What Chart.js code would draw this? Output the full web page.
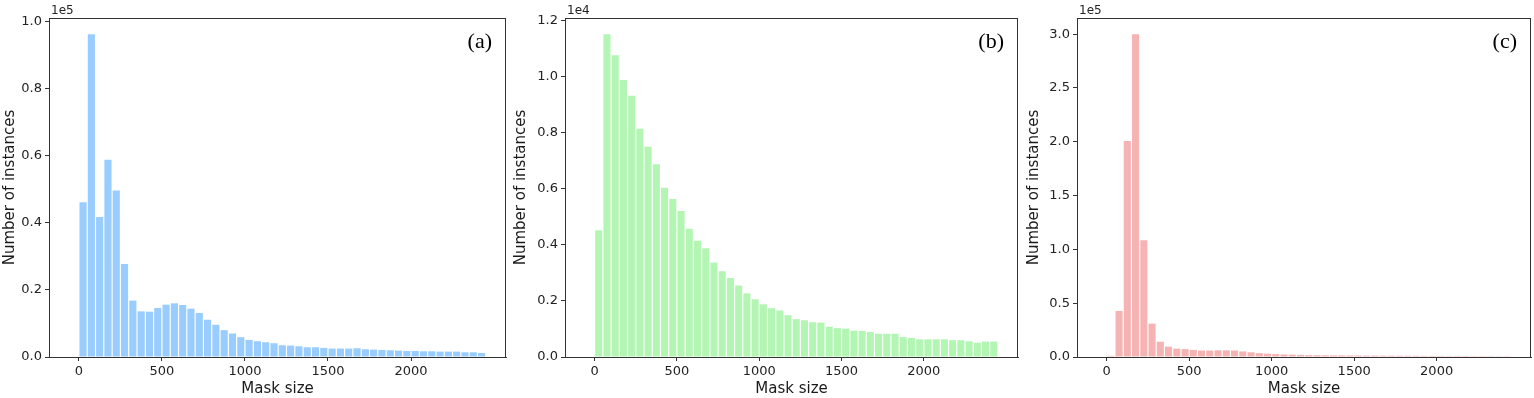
<!DOCTYPE html>
<html>
<head>
<meta charset="utf-8">
<script src="https://cdn.jsdelivr.net/npm/chart.js@4.4.1/dist/chart.umd.min.js"></script>
<style>
  html, body { margin: 0; padding: 0; background: #fff; }
  #wrap { position: relative; width: 1534px; height: 398px; overflow: hidden; }
  canvas { position: absolute; top: 0; }
</style>
</head>
<body>
<div id="wrap">
  <canvas id="chartA" width="511" height="398" style="left:0px"></canvas>
  <canvas id="chartB" width="513" height="398" style="left:511px"></canvas>
  <canvas id="chartC" width="510" height="398" style="left:1024px"></canvas>
</div>
<script>
// bin centres of the mask size histogram (bins of 50)
const binCenters = [25, 75, 125, 175, 225, 275, 325, 375, 425, 475,
  525, 575, 625, 675, 725, 775, 825, 875, 925, 975,
  1025, 1075, 1125, 1175, 1225, 1275, 1325, 1375, 1425, 1475,
  1525, 1575, 1625, 1675, 1725, 1775, 1825, 1875, 1925, 1975,
  2025, 2075, 2125, 2175, 2225, 2275, 2325, 2375, 2425];

const countsA = [46100, 96200, 41700, 58800, 49600, 27700, 16800, 13600, 13500, 14600,
  15600, 16000, 15500, 14400, 13100, 11100, 9600, 8000, 7000, 5900,
  5100, 4700, 4400, 4100, 3500, 3400, 3200, 2900, 2900, 2700,
  2500, 2500, 2500, 2600, 2300, 2200, 2100, 2000, 1900, 1800,
  1800, 1700, 1700, 1600, 1600, 1600, 1400, 1400, 1200];

const countsB = [4520, 11520, 10770, 9880, 9320, 8140, 7500, 6880, 6040, 5640,
  5210, 4580, 4150, 3880, 3370, 3060, 2820, 2550, 2270, 2060,
  1880, 1740, 1660, 1490, 1350, 1310, 1240, 1230, 1080, 1030,
  1010, 940, 930, 890, 830, 830, 830, 710, 680, 630,
  630, 630, 630, 600, 600, 560, 510, 550, 550];

const countsC = [1000, 42800, 200800, 300000, 108500, 31000, 14200, 9600, 7800, 7300,
  6600, 6000, 6000, 6200, 6200, 6000, 5200, 4400, 3600, 3100,
  2700, 2400, 2200, 2000, 1800, 1700, 1600, 1500, 1500, 1400,
  1400, 1300, 1300, 1200, 1200, 1100, 1100, 1100, 1000, 1000,
  1000, 900, 900, 900, 800, 800, 800, 700, 700];

const xTicks = [0, 500, 1000, 1500, 2000];
const yTicksA = [0, 20000, 40000, 60000, 80000, 100000];
const yTicksB = [0, 2000, 4000, 6000, 8000, 10000, 12000];
const yTicksC = [0, 50000, 100000, 150000, 200000, 250000, 300000];

Chart.defaults.font.family = 'DejaVu Sans';
Chart.defaults.color = '#222';

const axisColor = '#333';

function makePanel(id, counts, color, yTicks, exp, panelLabel, yWidth, padRight) {
    const factor = Math.pow(10, exp);
    const yMax = Math.max(...counts) * 1.05;

    // spines, offset text "1eN" and the (a)/(b)/(c) tag
    const decor = {
        id: 'decor',
        afterDraw: chart => {
            const { ctx, chartArea: a } = chart;
            ctx.save();
            ctx.strokeStyle = axisColor;
            ctx.lineWidth = 1;
            ctx.strokeRect(a.left + 0.5, a.top + 0.5, a.right - a.left - 1, a.bottom - a.top);
            ctx.fillStyle = '#222';
            ctx.font = '12px "DejaVu Sans"';
            ctx.textAlign = 'left';
            ctx.textBaseline = 'alphabetic';
            ctx.fillText('1e' + exp, a.left + 2, a.top - 4);
            ctx.font = '22px "Liberation Serif"';
            ctx.textAlign = 'right';
            ctx.fillStyle = '#000';
            ctx.fillText(panelLabel, a.right - 14, a.top + 30);
            ctx.restore();
        }
    };

    new Chart(document.getElementById(id), {
        type: 'bar',
        data: {
            datasets: [{
                data: binCenters.map((x, i) => ({ x: x, y: counts[i] })),
                backgroundColor: color,
                borderWidth: 0,
                barPercentage: 0.86,
                categoryPercentage: 1.0
            }]
        },
        options: {
            responsive: false,
            animation: false,
            layout: { padding: { top: 18, right: padRight, left: 0, bottom: 0 } },
            plugins: { legend: { display: false }, tooltip: { enabled: false } },
            scales: {
                x: {
                    type: 'linear',
                    offset: false,
                    min: -180,
                    max: 2572,
                    afterBuildTicks: s => { s.ticks = xTicks.map(v => ({ value: v })); },
                    afterFit: s => { s.height = 41; },
                    ticks: { font: { size: 13 }, padding: 3, callback: v => String(v), maxRotation: 0 },
                    grid: { offset: false, drawOnChartArea: false, drawTicks: true, tickLength: 4, color: axisColor },
                    border: { display: true, color: axisColor, width: 1 },
                    title: { display: true, text: 'Mask size', font: { size: 15 }, color: '#1a1a1a', padding: { top: 1, bottom: 0 } }
                },
                y: {
                    min: 0,
                    max: yMax,
                    afterBuildTicks: s => { s.ticks = yTicks.map(v => ({ value: v })); },
                    afterFit: s => { s.width = yWidth; },
                    ticks: { font: { size: 13 }, padding: 3, callback: v => (v / factor).toFixed(1) },
                    grid: { drawOnChartArea: false, drawTicks: true, tickLength: 4, color: axisColor },
                    border: { display: true, color: axisColor, width: 1 },
                    title: { display: true, text: 'Number of instances', font: { size: 15 }, color: '#1a1a1a', padding: { top: 1, bottom: 0 } }
                }
            }
        },
        plugins: [decor]
    });
}

makePanel('chartA', countsA, '#99CCFF', yTicksA, 5, '(a)', 49, 5);
makePanel('chartB', countsB, '#B3F5B3', yTicksB, 4, '(b)', 54, 6);
makePanel('chartC', countsC, '#F6B3B3', yTicksC, 5, '(c)', 53, 3);
</script>
</body>
</html>
